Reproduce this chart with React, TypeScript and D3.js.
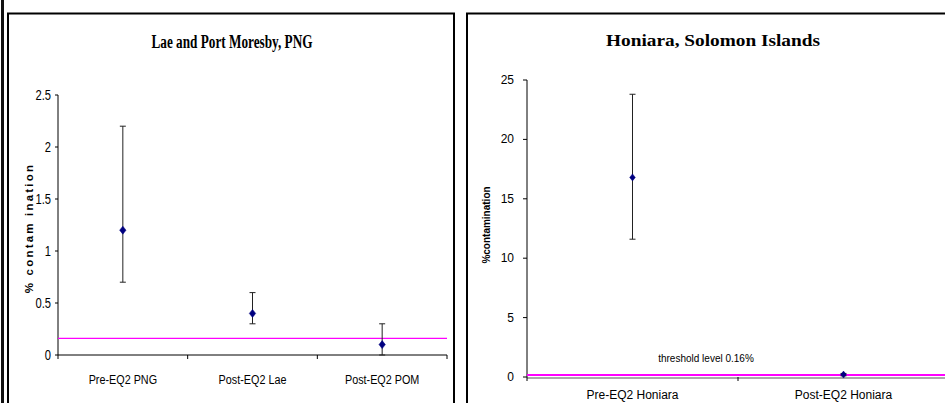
import React from 'react';
import * as d3 from 'd3';

// left chart: Lae and Port Moresby
const pngCategories = ['Pre-EQ2 PNG', 'Post-EQ2 Lae', 'Post-EQ2 POM'];
const pngValues = [1.2, 0.4, 0.1];
const pngLow = [0.7, 0.3, 0.0];
const pngHigh = [2.2, 0.6, 0.3];
const pngTicks = [0, 0.5, 1, 1.5, 2, 2.5];

// right chart: Honiara
const honCategories = ['Pre-EQ2 Honiara', 'Post-EQ2 Honiara'];
const honValues = [16.8, 0.2];
const honLow = [11.6, 0.1];
const honHigh = [23.8, 0.3];
const honTicks = [0, 5, 10, 15, 20, 25];

const threshold = 0.16;

const NAVY = '#000080';
const MAGENTA = '#ff00ff';
const SANS = '"Liberation Sans", Arial, sans-serif';

function Diamond({ x, y, r }: { x: number; y: number; r: number }) {
  return <path d={`M${x},${y - r}L${x + r * 0.8},${y}L${x},${y + r}L${x - r * 0.8},${y}Z`} fill={NAVY} stroke={NAVY} strokeWidth={0.5} />;
}

// condensed text (the left chart uses a narrow face)
function Narrow({ x, y, anchor, size, children }: { x: number; y: number; anchor: string; size: number; children: React.ReactNode }) {
  return (
    <text transform={`translate(${x},${y}) scale(0.8,1)`} textAnchor={anchor} fontFamily={SANS} fontSize={size}>{children}</text>
  );
}

function LeftChart() {
  const left = 58, right = 447, top = 95, bottom = 355;
  const x = d3.scaleBand().domain(pngCategories).range([left, right]);
  const y = d3.scaleLinear().domain([0, 2.5]).range([bottom, top]);
  return (
    <g>
      {/* panel frame */}
      <path d="M8,403V13.5H454V403" fill="none" stroke="#000" strokeWidth={2} />
      <text x={232} y={48} textAnchor="middle" fontFamily='"Liberation Serif", serif' fontWeight="bold" fontSize={18}
        textLength={161} lengthAdjust="spacingAndGlyphs">Lae and Port Moresby, PNG</text>

      {/* y axis */}
      <line x1={left} x2={left} y1={top} y2={bottom} stroke="#000" />
      {pngTicks.map(t => (
        <g key={t}>
          <line x1={left - 3} x2={left} y1={y(t)} y2={y(t)} stroke="#000" />
          <Narrow x={left - 7} y={y(t) + 5} anchor="end" size={14}>{t}</Narrow>
        </g>
      ))}
      <text transform={`translate(33,228) rotate(-90)`} textAnchor="middle"
        fontFamily={SANS} fontWeight="bold" fontSize={11.5} letterSpacing={2.2}>% contam ination</text>

      {/* x axis */}
      <line x1={left} x2={right} y1={bottom} y2={bottom} stroke="#000" />
      {[...pngCategories.map(c => x(c)!), right].map((v, i) => (
        <line key={i} x1={v} x2={v} y1={bottom} y2={bottom + 4} stroke="#000" />
      ))}
      {pngCategories.map(c => (
        <Narrow key={c} x={x(c)! + x.bandwidth() / 2} y={384} anchor="middle" size={13.5}>{c}</Narrow>
      ))}

      {/* threshold */}
      <line x1={left} x2={right} y1={y(threshold)} y2={y(threshold)} stroke={MAGENTA} strokeWidth={1.3} />

      {/* error bars + points */}
      {pngCategories.map((c, i) => {
        const cx = x(c)! + x.bandwidth() / 2;
        return (
          <g key={c}>
            <line x1={cx} x2={cx} y1={y(pngLow[i])} y2={y(pngHigh[i])} stroke="#222" />
            <line x1={cx - 3} x2={cx + 3} y1={y(pngLow[i])} y2={y(pngLow[i])} stroke="#222" />
            <line x1={cx - 3} x2={cx + 3} y1={y(pngHigh[i])} y2={y(pngHigh[i])} stroke="#222" />
            <Diamond x={cx} y={y(pngValues[i])} r={4} />
          </g>
        );
      })}
    </g>
  );
}

function RightChart() {
  const left = 527, right = 949, top = 80, bottom = 377;
  const x = d3.scaleBand().domain(honCategories).range([left, right]);
  const y = d3.scaleLinear().domain([0, 25]).range([bottom, top]);
  return (
    <g>
      <path d="M467,403V13.5H946" fill="none" stroke="#000" strokeWidth={2} />
      <text x={713} y={46} textAnchor="middle" fontFamily='"Liberation Serif", serif' fontWeight="bold" fontSize={17.5}
        textLength={214} lengthAdjust="spacingAndGlyphs">Honiara, Solomon Islands</text>

      {/* y axis */}
      <line x1={left} x2={left} y1={top} y2={bottom} stroke="#000" />
      {honTicks.map(t => (
        <g key={t}>
          <line x1={left - 4} x2={left} y1={y(t)} y2={y(t)} stroke="#000" />
          <text x={left - 13} y={y(t) + 4} textAnchor="end" fontFamily={SANS} fontSize={12}>{t}</text>
        </g>
      ))}
      <text transform={`translate(490,225) rotate(-90)`} textAnchor="middle"
        fontFamily={SANS} fontWeight="bold" fontSize={10}>%contamination</text>

      {/* x axis */}
      <line x1={left} x2={right} y1={bottom + 1} y2={bottom + 1} stroke="#555" />
      {[...honCategories.map(c => x(c)!), right].map((v, i) => (
        <line key={i} x1={v} x2={v} y1={bottom} y2={bottom + 4} stroke="#000" />
      ))}
      {honCategories.map(c => (
        <text key={c} x={x(c)! + x.bandwidth() / 2} y={399} textAnchor="middle" fontFamily={SANS} fontSize={12}>{c}</text>
      ))}

      {/* threshold */}
      <line x1={left} x2={right} y1={y(threshold)} y2={y(threshold)} stroke={MAGENTA} strokeWidth={2} />
      <text x={706} y={362} textAnchor="middle" fontFamily={SANS} fontSize={10}>threshold level 0.16%</text>

      {honCategories.map((c, i) => {
        const cx = x(c)! + x.bandwidth() / 2;
        return (
          <g key={c}>
            <line x1={cx} x2={cx} y1={y(honLow[i])} y2={y(honHigh[i])} stroke="#222" />
            <line x1={cx - 3} x2={cx + 3} y1={y(honLow[i])} y2={y(honLow[i])} stroke="#222" />
            <line x1={cx - 3} x2={cx + 3} y1={y(honHigh[i])} y2={y(honHigh[i])} stroke="#222" />
            <Diamond x={cx} y={y(honValues[i])} r={3.5} />
          </g>
        );
      })}
    </g>
  );
}

export default function App() {
  return (
    <svg width={945} height={403} style={{ position: 'absolute', left: 0, top: 0, background: '#fff' }}>
      <rect width={945} height={403} fill="#fff" />
      {/* left outer edge */}
      <rect x={1} y={0} width={3} height={403} fill="#111" />
      <LeftChart />
      <RightChart />
    </svg>
  );
}
